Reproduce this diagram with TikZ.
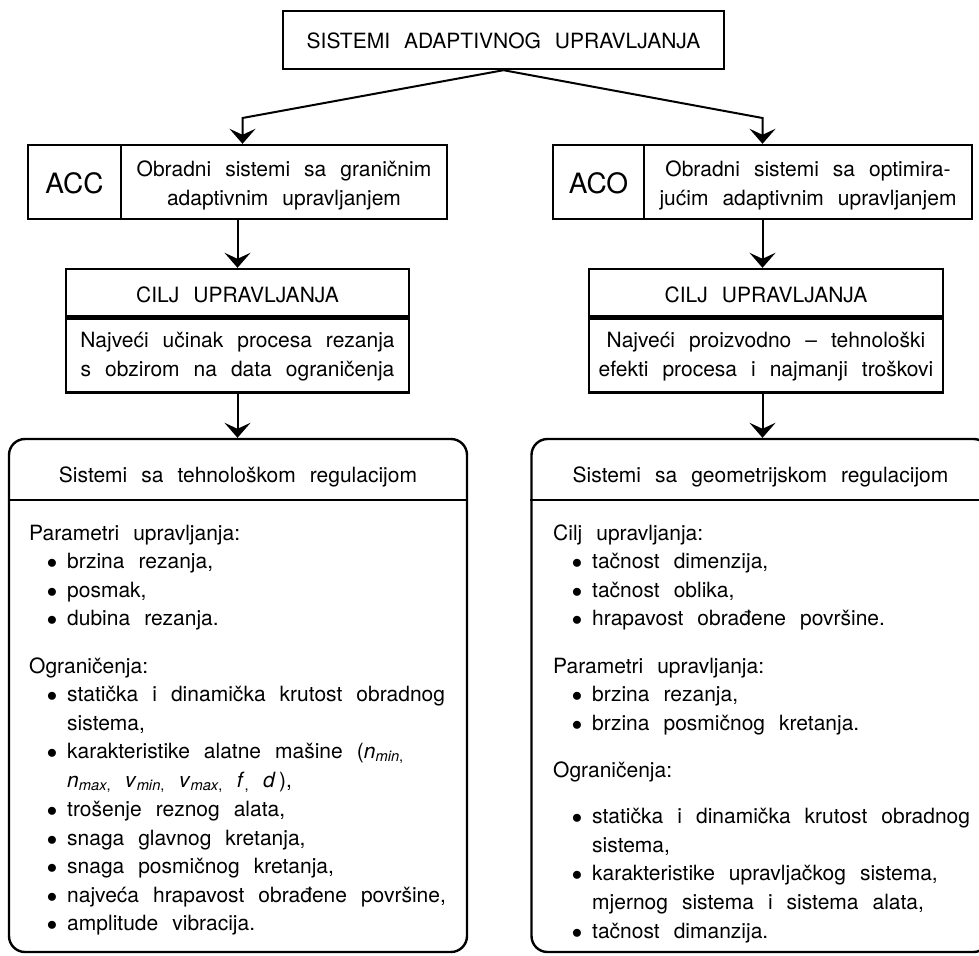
\documentclass[tikz,border=0pt]{standalone}
\usepackage{fontspec}
\setmainfont{TeX Gyre Heros}[WordSpace=2.4]
\usetikzlibrary{arrows.meta, positioning}

\begin{document}
\begin{tikzpicture}[
    x=1pt, y=-1pt,
    font=\fontsize{21}{28.7}\selectfont,
    box/.style={draw, line width=2.4pt, inner sep=0pt},
    sysbox/.style={box, rounded corners=16pt, minimum width=458pt, minimum height=513pt},
    ttl/.style={anchor=base, inner sep=0pt, align=center},
    item/.style={anchor=base west, inner sep=0pt},
    dot/.style={anchor=base, inner sep=0pt},
    conn/.style={-{Stealth[length=15pt, width=26pt, inset=6pt]}, line width=2pt},
]
\useasboundingbox (0,0) rectangle (979,955);

% head of the tree
\node[box, minimum width=441pt, minimum height=58pt] (top) at (503.5,40) {};
\node[ttl] (topt) at (503.5,49) {SISTEMI ADAPTIVNOG UPRAVLJANJA};

% ACC branch on the left
\node[box, minimum width=419pt, minimum height=74pt] (acc) at (237.5,182) {};
\node[inner sep=0pt, minimum width=93pt, minimum height=74pt,
      font=\fontsize{28}{30}\selectfont] (accl) at (74.5,183) {ACC};
\draw[line width=2.4pt] (accl.north east |- acc.north) -- (accl.south east |- acc.south);
\node[ttl] (acct) at (284,205) {Obradni sistemi sa graničnim\\adaptivnim upravljanjem};

% ACO branch on the right
\node[box, minimum width=419pt, minimum height=74pt] (aco) at (762.5,182) {};
\node[inner sep=0pt, minimum width=91pt, minimum height=74pt,
      font=\fontsize{28}{30}\selectfont] (acol) at (598.5,183) {ACO};
\draw[line width=2.4pt] (acol.north east |- aco.north) -- (acol.south east |- aco.south);
\node[ttl] (acot) at (808,205) {Obradni sistemi sa optimira-\\jućim adaptivnim upravljanjem};

% control goals
\node[box, minimum width=343pt, minimum height=47pt] (cilj1) at (237.5,292.5) {};
\node[box, minimum width=343pt, minimum height=74pt, below=0pt of cilj1] (cb1) {};
\node[ttl] (cilj1t) at (237.5,302) {CILJ UPRAVLJANJA};
\node[ttl] (cb1t) at (237.5,376) {Najveći učinak procesa rezanja\\s obzirom na data ograničenja};

\node[box, minimum width=354pt, minimum height=47pt] (cilj2) at (766,292.5) {};
\node[box, minimum width=354pt, minimum height=74pt, below=0pt of cilj2] (cb2) {};
\node[ttl] (cilj2t) at (766,302) {CILJ UPRAVLJANJA};
\node[ttl] (cb2t) at (766,376) {Najveći proizvodno -- tehnološki\\efekti procesa i najmanji troškovi};

% regulation systems
\node[sysbox] (sys1) at (238,695.5) {};
\draw[line width=2.4pt] (sys1.west |- 0,500) -- (sys1.east |- 0,500);
\node[ttl] (sys1t) at (238,482) {Sistemi sa tehnološkom regulacijom};

\node[sysbox] (sys2) at (760.5,695.5) {};
\draw[line width=2.4pt] (sys2.west |- 0,500) -- (sys2.east |- 0,500);
\node[ttl] (sys2t) at (760.5,482) {Sistemi sa geometrijskom regulacijom};

% connectors
\draw[conn] (top.south) -- ([xshift=5pt]acc.north |- 0,118) -- ([xshift=5pt]acc.north);
\draw[conn] (top.south) -- (aco.north |- 0,118) -- (aco.north);
\draw[conn] (acc.south) -- (cilj1.north);
\draw[conn] (aco.south) -- (aco.south |- cilj2.north);
\draw[conn] (cb1.south) -- (cb1.south |- sys1.north);
\draw[conn] (aco.south |- cb2.south) -- (aco.south |- sys2.north);

% left list
\node[item] (lh1) at (29,540) {Parametri upravljanja:};
\node[item] (lh2) at (29,673) {Ograničenja:};
\foreach \y/\t in {568/{brzina rezanja,}, 597/{posmak,}, 625/{dubina rezanja.},
    701/{statička i dinamička krutost obradnog},
    758/{karakteristike alatne mašine (\textit{n}\textsubscript{\textit{min},}},
    816/{trošenje reznog alata,}, 845/{snaga glavnog kretanja,},
    873/{snaga posmičnog kretanja,}, 902/{najveća hrapavost obrađene površine,},
    930/{amplitude vibracija.}} {
  \node[dot] (lb\y) at (52,\y) {$\bullet$};
  \node[item] (li\y) at (67,\y) {\t};
}
\node[item] (li730) at (67,730) {sistema,};
\node[item] (li787) at (67,787) {\textit{n}\textsubscript{\textit{max},}
  \textit{v}\textsubscript{\textit{min},} \textit{v}\textsubscript{\textit{max},}
  \textit{f}\textsubscript{,} \textit{d}\,),};

% right list
\node[item] (rh1) at (553,540) {Cilj upravljanja:};
\node[item] (rh2) at (553,673) {Parametri upravljanja:};
\node[item] (rh3) at (553,777) {Ograničenja:};
\foreach \y/\t in {568/{tačnost dimenzija,}, 597/{tačnost oblika,},
    625/{hrapavost obrađene površine.}, 701/{brzina rezanja,},
    730/{brzina posmičnog kretanja.},
    823/{statička i dinamička krutost obradnog},
    880/{karakteristike upravljačkog sistema,}, 938/{tačnost dimanzija.}} {
  \node[dot] (rb\y) at (577,\y) {$\bullet$};
  \node[item] (ri\y) at (592,\y) {\t};
}
\node[item] (ri852) at (592,852) {sistema,};
\node[item] (ri909) at (592,909) {mjernog sistema i sistema alata,};
\end{tikzpicture}
\end{document}
